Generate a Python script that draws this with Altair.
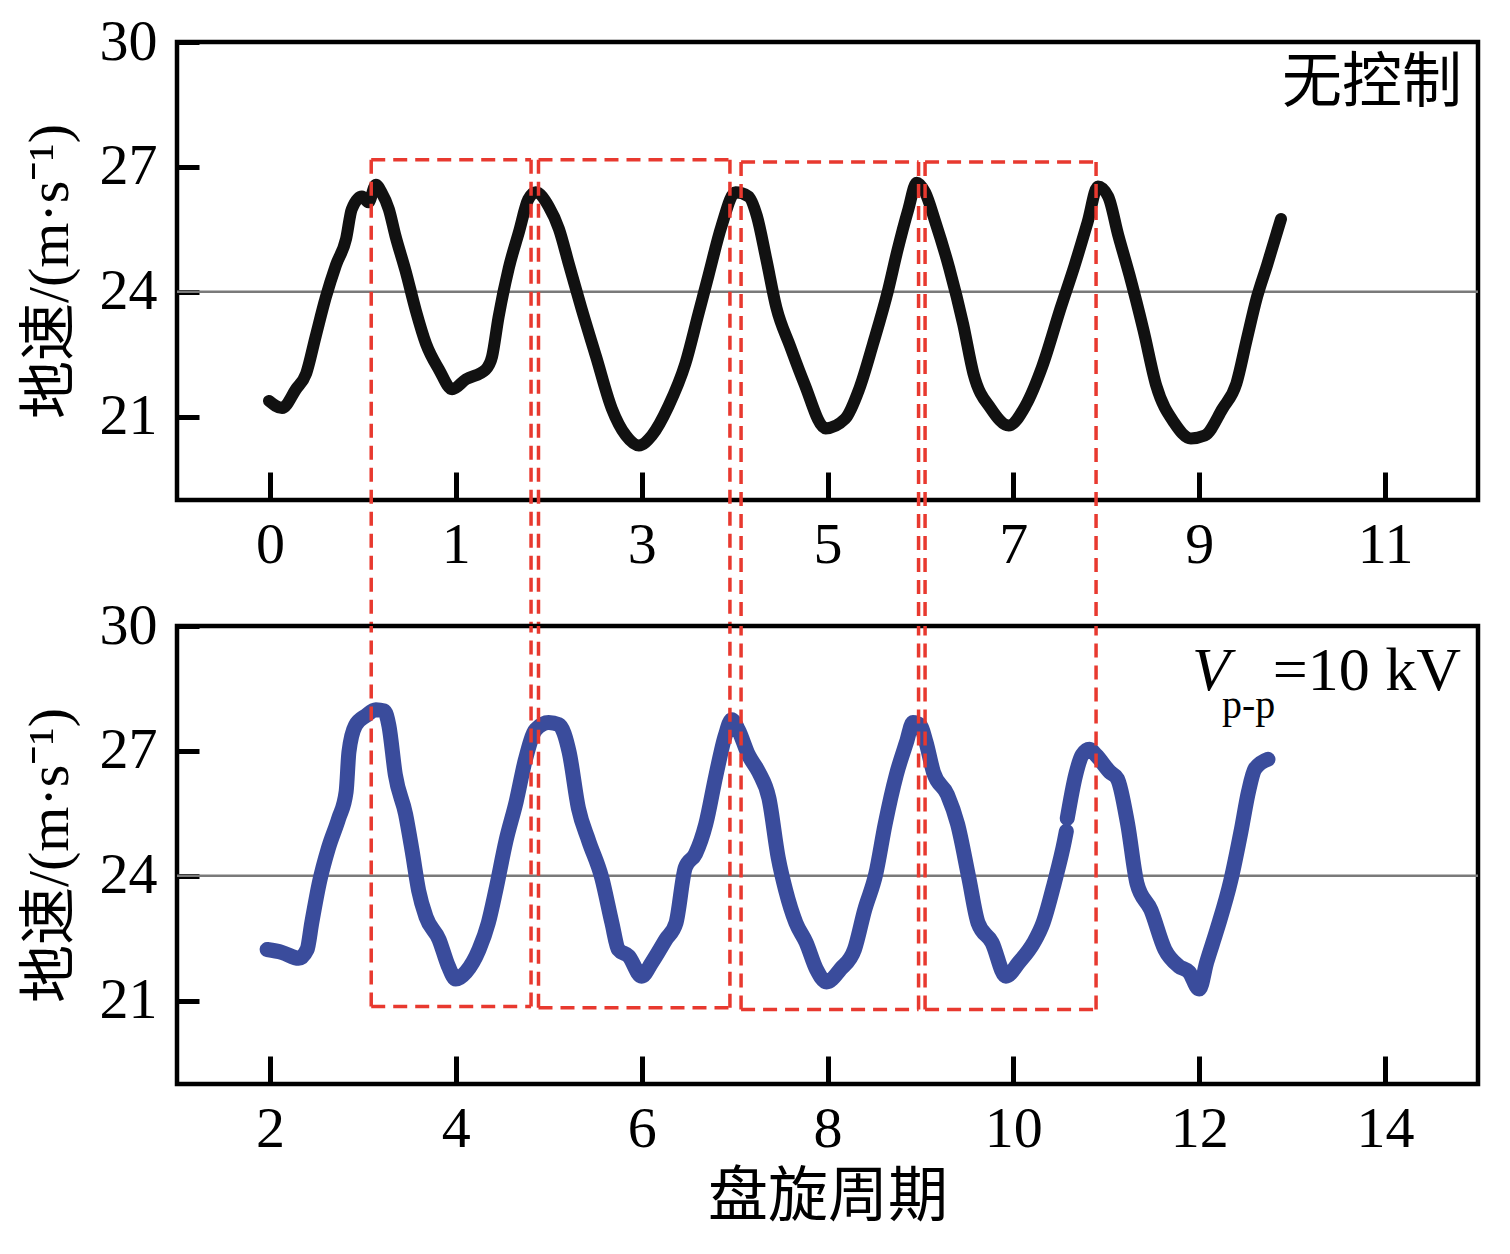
import altair as alt
import pandas as pd

# ---------------- data ----------------
# upper panel (无控制): x in shared cycle coordinates, y = ground speed (m/s)
top_x = [1.99, 2.13, 2.28, 2.39, 2.49, 2.60, 2.71, 2.82, 2.88, 2.99, 3.06, 3.14, 3.20, 3.28,
         3.35, 3.46, 3.57, 3.68, 3.82, 3.96, 4.11, 4.32, 4.39, 4.46, 4.57, 4.68, 4.78, 4.86,
         5.00, 5.11, 5.22, 5.35, 5.51, 5.68, 5.83, 5.97, 6.11, 6.29, 6.47, 6.61, 6.72, 6.86,
         7.01, 7.15, 7.24, 7.34, 7.45, 7.60, 7.75, 7.98, 8.19, 8.34, 8.49, 8.65, 8.75, 8.87,
         8.96, 9.05, 9.16, 9.31, 9.46, 9.57, 9.76, 9.95, 10.13, 10.31, 10.51, 10.66, 10.80,
         10.91, 11.02, 11.13, 11.25, 11.40, 11.54, 11.73, 11.91, 12.06, 12.25, 12.40, 12.51,
         12.62, 12.73, 12.88]
top_y = [21.38, 21.21, 21.66, 22.04, 22.91, 23.86, 24.64, 25.28, 25.98, 26.29, 26.15, 26.57,
         26.39, 25.98, 25.35, 24.50, 23.55, 22.75, 22.13, 21.66, 21.90, 22.13, 22.44, 23.39,
         24.57, 25.44, 26.22, 26.39, 26.05, 25.51, 24.64, 23.62, 22.44, 21.19, 20.55, 20.31,
         20.55, 21.26, 22.27, 23.46, 24.40, 25.58, 26.39, 26.29, 25.82, 24.80, 23.62, 22.68,
         21.80, 20.72, 20.95, 21.66, 22.75, 24.02, 24.97, 25.98, 26.62, 26.39, 25.68, 24.57,
         23.22, 22.04, 21.19, 20.79, 21.26, 22.20, 23.62, 24.64, 25.68, 26.53, 26.29, 25.35,
         24.40, 23.08, 21.73, 20.86, 20.48, 20.55, 21.19, 21.80, 22.84, 23.86, 24.64, 25.75]

# lower panel (Vp-p = 10 kV)
bot_x = [1.97, 2.13, 2.31, 2.40, 2.45, 2.53, 2.63, 2.74, 2.82, 2.85, 2.92, 3.03, 3.14, 3.23,
         3.28, 3.35, 3.46, 3.53, 3.60, 3.68, 3.82, 3.92, 4.00, 4.11, 4.25, 4.35, 4.43, 4.54,
         4.65, 4.75, 4.86, 5.00, 5.11, 5.22, 5.32, 5.43, 5.57, 5.68, 5.75, 5.86, 6.00, 6.11,
         6.26, 6.37, 6.47, 6.58, 6.69, 6.80, 6.90, 6.97, 7.04, 7.15, 7.26, 7.37, 7.47, 7.55,
         7.66, 7.77, 7.88, 7.99, 8.14, 8.29, 8.40, 8.52, 8.62, 8.74, 8.85, 8.92, 9.00, 9.06,
         9.14, 9.29, 9.40, 9.52, 9.62, 9.77, 9.92, 10.06, 10.22, 10.32, 10.44, 10.55, 10.57,
         10.58, 10.67, 10.74, 10.82, 10.89, 11.04, 11.12, 11.23, 11.33, 11.48, 11.63, 11.78,
         11.89, 12.00, 12.08, 12.19, 12.34, 12.45, 12.53, 12.60, 12.74]
bot_y = [22.23, 22.16, 22.02, 22.23, 22.87, 23.82, 24.67, 25.38, 26.02, 26.97, 27.61, 27.84,
         27.99, 27.96, 27.61, 26.42, 25.48, 24.60, 23.65, 23.01, 22.47, 21.83, 21.52, 21.69,
         22.23, 22.87, 23.65, 24.84, 25.78, 26.80, 27.51, 27.68, 27.63, 26.97, 25.62, 24.84,
         23.96, 22.87, 22.23, 22.07, 21.59, 21.92, 22.47, 22.87, 24.20, 24.53, 25.24, 26.42,
         27.37, 27.75, 27.51, 26.90, 26.49, 25.86, 24.43, 23.65, 22.87, 22.40, 21.76, 21.45,
         21.76, 22.23, 23.18, 24.05, 25.24, 26.42, 27.21, 27.68, 27.61, 27.21, 26.49, 25.95,
         25.24, 23.96, 22.87, 22.40, 21.59, 21.92, 22.40, 22.87, 23.82, 24.84, 25.07,
         25.38, 26.42, 26.90, 27.04, 26.90, 26.49, 26.33, 25.24, 23.82, 23.18, 22.23, 21.83,
         21.69, 21.28, 21.92, 22.70, 23.89, 25.07, 26.02, 26.57, 26.80]
bot_seg = [1] * 83 + [2] * 21

# red dashed boxes (shared cycle coordinates)
rect_x1 = [3.09, 4.89, 7.07, 9.05]
rect_x2 = [4.81, 6.95, 8.98, 10.89]
rect_top = [27.17, 27.17, 27.12, 27.12]
rect_bottom = [20.86, 20.83, 20.79, 20.79]

x_ticks = [2, 4, 6, 8, 10, 12, 14]
y_ticks = [21, 24, 27, 30]
ref_level = [24]

# ---------------- tables ----------------
top_df = pd.DataFrame({"x": top_x, "y": top_y})
bot_df = pd.DataFrame({"x": bot_x, "y": bot_y, "seg": bot_seg})
rect_df = pd.DataFrame({"x1": rect_x1, "x2": rect_x2, "top": rect_top, "bottom": rect_bottom})
vert_df = pd.DataFrame({
    "xv": rect_x1 + rect_x2,
    "top": rect_top + rect_top,
    "bottom": rect_bottom + rect_bottom,
})
ref_df = pd.DataFrame({"y": ref_level})

# ---------------- style ----------------
W, H, GAP = 1301, 458, 126
SERIF = "Liberation Serif"
MIXED = "Liberation Serif, Noto Sans CJK SC"
RED = "#e8392f"
DASH = [14, 8]

xscale = alt.Scale(domain=[1, 15], nice=False, zero=False)
yscale = alt.Scale(domain=[19, 30], nice=False, zero=False)

common_axis = dict(domain=False, grid=False, labelFont=SERIF, labelFontSize=58,
                   labelColor="black", tickColor="black", tickWidth=5,
                   labelFlush=False, labelOverlap=False, labelBound=False)

x_axis_top = alt.Axis(values=x_ticks, title=None, offset=-28, tickSize=28, labelPadding=16,
                      labelExpr="datum.value == 2 ? '0' : '' + (datum.value - 3)",
                      **common_axis)
x_axis_bot = alt.Axis(values=x_ticks, title="盘旋周期", offset=-28, tickSize=28, labelPadding=16,
                      format="d", titleFont=MIXED, titleFontSize=60, titleFontWeight="normal",
                      titleColor="black", titlePadding=10, **common_axis)
y_axis = alt.Axis(values=y_ticks, title="地速/(m·s⁻¹)", offset=-22, tickSize=22, labelPadding=20,
                  format="d", titleFont=MIXED, titleFontSize=58, titleFontWeight="normal",
                  titleColor="black", titlePadding=20, **common_axis)


def panel(df, color, width_px, xaxis, detail=None):
    ref = alt.Chart(ref_df).mark_rule(color="#7a7a7a", strokeWidth=2.5).encode(
        y=alt.Y("y:Q", scale=yscale, axis=y_axis))
    enc = dict(x=alt.X("x:Q", scale=xscale, axis=xaxis),
               y=alt.Y("y:Q", scale=yscale, axis=y_axis))
    if detail:
        enc["detail"] = alt.Detail(detail)
    line = alt.Chart(df).mark_line(color=color, strokeWidth=width_px, interpolate="monotone",
                                   strokeJoin="round", strokeCap="round").encode(**enc)
    return ref, line


# ---------------- upper panel ----------------
ref_t, line_t = panel(top_df, "#111111", 12, x_axis_top)
edge_t = alt.Chart(rect_df).mark_rule(color=RED, strokeWidth=3.5, strokeDash=DASH).encode(
    x=alt.X("x1:Q", scale=xscale, axis=x_axis_top), x2="x2:Q",
    y=alt.Y("top:Q", scale=yscale, axis=y_axis))
vert_t = alt.Chart(vert_df).mark_rule(color=RED, strokeWidth=3.5, strokeDash=DASH).encode(
    x=alt.X("xv:Q", scale=xscale, axis=x_axis_top),
    y=alt.Y("top:Q", scale=yscale, axis=y_axis), y2=alt.value(H + GAP))
label_t = alt.Chart(pd.DataFrame({"t": ["无控制"]})).mark_text(
    font=MIXED, fontSize=60, align="right", baseline="alphabetic", color="black").encode(
    text="t:N", x=alt.value(1285), y=alt.value(60))

top_chart = alt.layer(ref_t, line_t, edge_t, vert_t, label_t).properties(width=W, height=H)

# ---------------- lower panel ----------------
ref_b, line_b = panel(bot_df, "#3a4c9c", 15, x_axis_bot, detail="seg:N")
edge_b = alt.Chart(rect_df).mark_rule(color=RED, strokeWidth=3.5, strokeDash=DASH).encode(
    x=alt.X("x1:Q", scale=xscale, axis=x_axis_bot), x2="x2:Q",
    y=alt.Y("bottom:Q", scale=yscale, axis=y_axis))
vert_b = alt.Chart(vert_df).mark_rule(color=RED, strokeWidth=3.5, strokeDash=DASH).encode(
    x=alt.X("xv:Q", scale=xscale, axis=x_axis_bot),
    y=alt.Y("bottom:Q", scale=yscale, axis=y_axis), y2=alt.value(0))
v_lbl = alt.Chart(pd.DataFrame({"t": ["V"]})).mark_text(
    font=SERIF, fontSize=62, fontStyle="italic", align="left", baseline="alphabetic",
    color="black").encode(text="t:N", x=alt.value(1015), y=alt.value(64))
pp_lbl = alt.Chart(pd.DataFrame({"t": ["p-p"]})).mark_text(
    font=SERIF, fontSize=40, align="left", baseline="alphabetic", color="black").encode(
    text="t:N", x=alt.value(1045), y=alt.value(92))
kv_lbl = alt.Chart(pd.DataFrame({"t": ["=10 kV"]})).mark_text(
    font=SERIF, fontSize=62, align="right", baseline="alphabetic", color="black").encode(
    text="t:N", x=alt.value(1284), y=alt.value(64))

bot_chart = alt.layer(ref_b, line_b, edge_b, vert_b, v_lbl, pp_lbl, kv_lbl).properties(
    width=W, height=H)

chart = alt.vconcat(top_chart, bot_chart, spacing=GAP, bounds="flush").properties(
    padding={"left": 10, "top": 2, "right": 10, "bottom": 10},
    background="white",
).configure_view(stroke="black", strokeWidth=4.5)

chart.save("out.html", embed_options={"renderer": "svg", "actions": False})
